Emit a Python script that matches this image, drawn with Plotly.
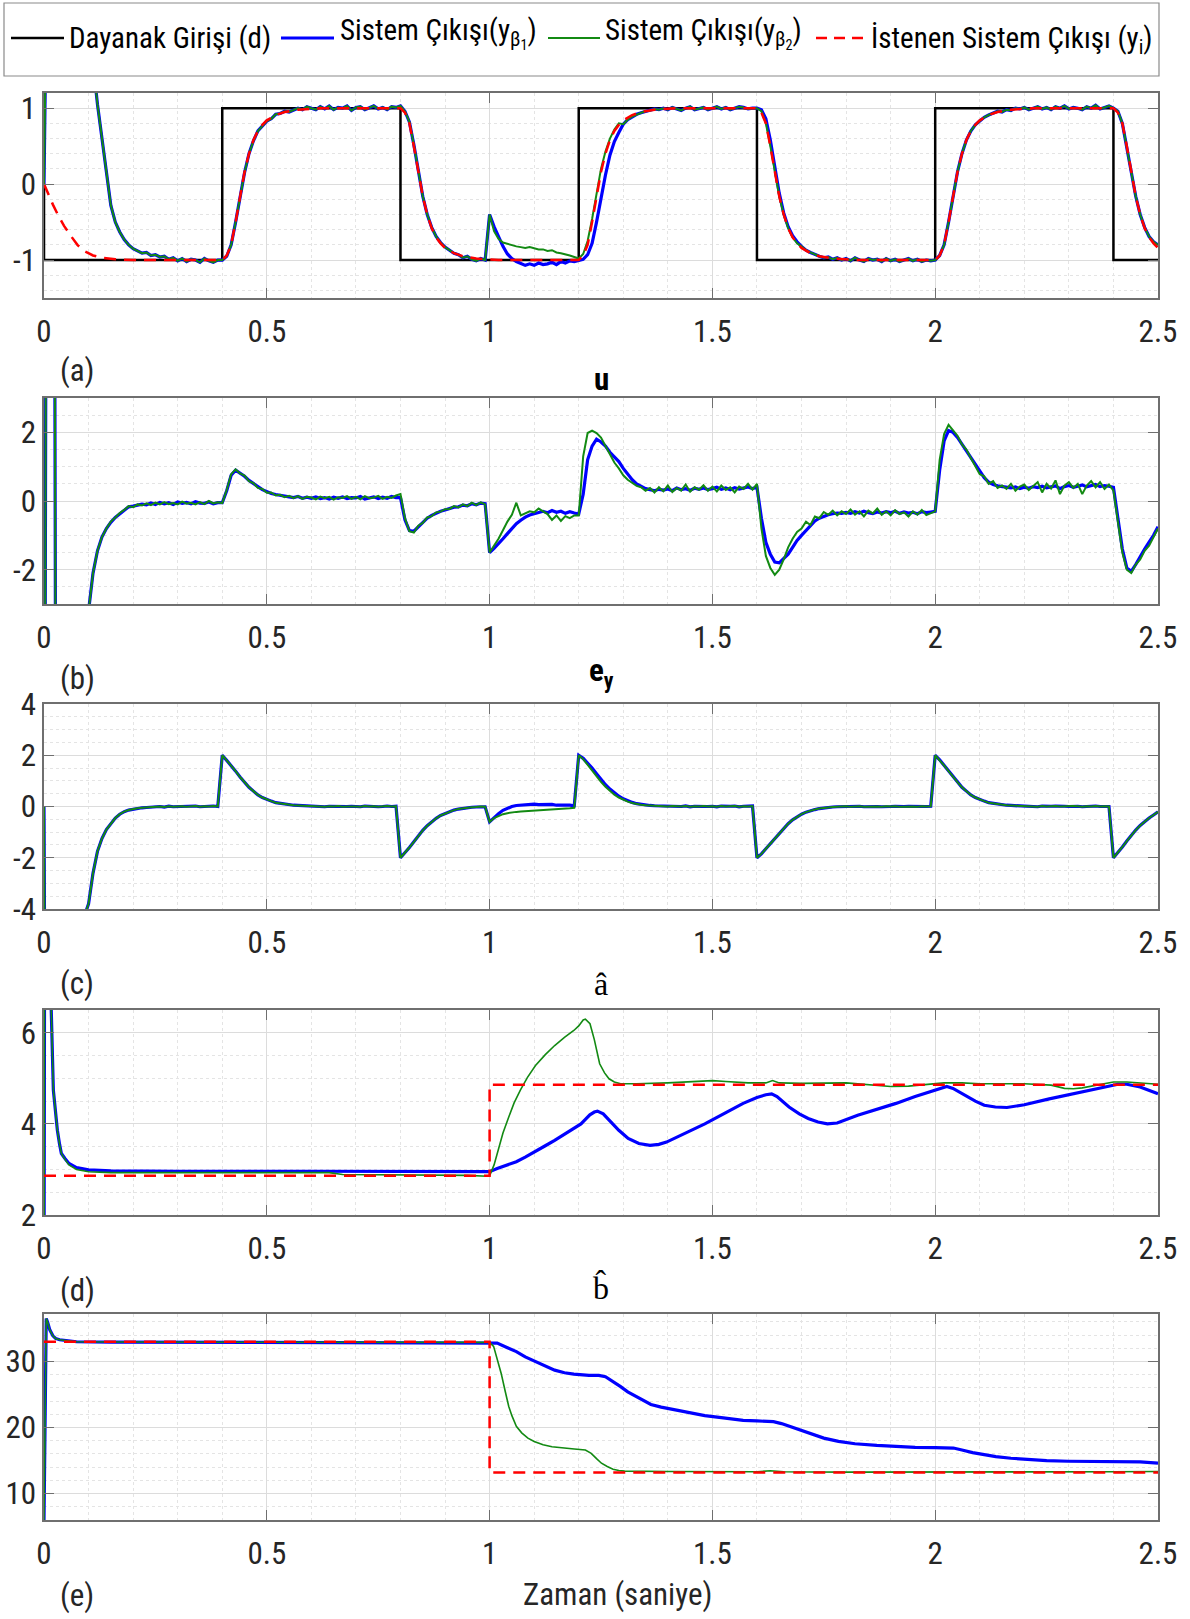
import plotly.graph_objects as go

W, H = 1190, 1619
FONT = "Liberation Sans Narrow, Arial Narrow, Roboto Condensed, Liberation Sans, sans-serif"
SERIF = "Liberation Serif, DejaVu Serif, serif"

# ---------------- DATA ----------------
# uniform sample times (s) used for the noisy signals of panels a, b, c
T01 = [round(i * 0.01, 2) for i in range(251)]

# Panel (a): reference input d (square wave) vertices
D_T = [0, 0, 0.4, 0.4, 0.8, 0.8, 1.2, 1.2, 1.6, 1.6, 2.0, 2.0, 2.4, 2.4, 2.5]
D_Y = [0, -1, -1, 1, 1, -1, -1, 1, 1, -1, -1, 1, 1, -1, -1]

# Panel (a): desired output y_i
RA_T = [0, 0.01, 0.02, 0.03, 0.045, 0.06, 0.075, 0.09, 0.11, 0.13, 0.16, 0.2,
        0.4, 0.41, 0.42, 0.43, 0.44, 0.45, 0.46, 0.47, 0.48, 0.49, 0.5, 0.52, 0.54, 0.57, 0.62,
        0.8, 0.81, 0.82, 0.83, 0.84, 0.85, 0.86, 0.87, 0.88, 0.89, 0.9, 0.92, 0.94, 0.97, 1.02,
        1.2, 1.21, 1.22, 1.23, 1.24, 1.25, 1.26, 1.27, 1.28, 1.29, 1.3, 1.32, 1.34, 1.37, 1.42,
        1.6, 1.61, 1.62, 1.63, 1.64, 1.65, 1.66, 1.67, 1.68, 1.69, 1.7, 1.72, 1.74, 1.77, 1.82,
        2.0, 2.01, 2.02, 2.03, 2.04, 2.05, 2.06, 2.07, 2.08, 2.09, 2.1, 2.12, 2.14, 2.17, 2.22,
        2.4, 2.41, 2.42, 2.43, 2.44, 2.45, 2.46, 2.47, 2.48, 2.49, 2.5]
RA_Y = [0, -0.14, -0.27, -0.39, -0.55, -0.68, -0.8, -0.88, -0.94, -0.97, -0.99, -1.0,
        -1, -0.94, -0.8, -0.5, -0.16, 0.16, 0.4, 0.58, 0.7, 0.78, 0.84, 0.91, 0.95, 0.98, 1.0,
        1, 0.94, 0.8, 0.5, 0.16, -0.16, -0.4, -0.58, -0.7, -0.78, -0.84, -0.91, -0.95, -0.98, -1.0,
        -1, -0.94, -0.8, -0.5, -0.16, 0.16, 0.4, 0.58, 0.7, 0.78, 0.84, 0.91, 0.95, 0.98, 1.0,
        1, 0.94, 0.8, 0.5, 0.16, -0.16, -0.4, -0.58, -0.7, -0.78, -0.84, -0.91, -0.95, -0.98, -1.0,
        -1, -0.94, -0.8, -0.5, -0.16, 0.16, 0.4, 0.58, 0.7, 0.78, 0.84, 0.91, 0.95, 0.98, 1.0,
        1, 0.94, 0.8, 0.5, 0.16, -0.16, -0.4, -0.58, -0.7, -0.78, -0.84]

# Panel (a): system outputs on T01 (shared parts + parts where beta1/beta2 differ)
A_BG_0 = [0, 10, 14, 14, 12, 10, 8, 6, 4.5, 3.2,
          2.3, 1.6, 1.05, 0.62, 0.15, -0.28, -0.5, -0.63, -0.73, -0.8,
          -0.85, -0.88, -0.91, -0.9, -0.94, -0.93, -0.96, -0.95, -0.99, -0.97,
          -1.01, -0.98, -1.02, -0.99, -1.0, -1.03, -0.98, -1.01, -1.03, -1.0,
          -1.0, -0.95, -0.8, -0.5, -0.16, 0.15, 0.4, 0.57, 0.7, 0.77,
          0.83, 0.86, 0.92, 0.93, 0.96, 0.95, 0.98, 1.0, 0.98, 1.02,
          1.0, 0.98, 1.02, 0.99, 1.03, 0.98, 1.01, 1.0, 1.03, 0.97,
          1.01, 1.02, 0.98, 1.0, 1.03, 0.99, 1.01, 0.98, 1.02, 1.01,
          1.03, 0.96, 0.82, 0.52, 0.16, -0.16, -0.4, -0.57, -0.69, -0.77,
          -0.83, -0.87, -0.91, -0.93, -0.97, -0.95, -0.99, -1.01, -0.98, -1.0]
A_B_1 = [-0.4, -0.56, -0.7, -0.82, -0.92, -0.98, -1.02, -1.05, -1.07, -1.05,
         -1.07, -1.04, -1.06, -1.05, -1.03, -1.06, -1.02, -1.04, -1.01, -1.02,
         -1.0, -0.99, -0.93, -0.78, -0.5, -0.18, 0.12, 0.38, 0.56, 0.68]
A_G_1 = [-0.4, -0.62, -0.72, -0.77, -0.79, -0.81, -0.82, -0.83, -0.84, -0.83,
         -0.85, -0.86, -0.86, -0.88, -0.87, -0.9, -0.91, -0.92, -0.94, -0.96,
         -0.98, -0.92, -0.75, -0.46, -0.12, 0.2, 0.43, 0.6, 0.72, 0.8]
A_BG_2 = [0.79, 0.85, 0.89, 0.92, 0.94, 0.96, 0.97, 0.99, 0.98, 1.0,
          0.98, 1.01, 0.99, 0.97, 1.0, 1.02, 0.98, 0.99, 1.01, 0.98,
          1.0, 1.02, 0.99, 1.01, 0.98, 1.0, 1.02, 1.01, 0.99, 1.0]
A_B_3 = [1.0, 0.98, 0.86, 0.58, 0.22, -0.12, -0.38, -0.56, -0.68, -0.76]
A_G_3 = [1.0, 0.96, 0.8, 0.5, 0.16, -0.16, -0.4, -0.58, -0.7, -0.78]
A_BG_4 = [-0.82, -0.87, -0.9, -0.93, -0.95, -0.97, -0.96, -0.99, -0.97, -1.0,
          -0.98, -1.01, -0.97, -1.0, -1.02, -0.98, -1.0, -0.99, -1.02, -0.98,
          -1.01, -0.99, -1.02, -1.0, -0.98, -1.01, -0.99, -1.02, -1.0, -1.01,
          -1.0, -0.94, -0.8, -0.5, -0.16, 0.16, 0.4, 0.58, 0.7, 0.78,
          0.83, 0.88, 0.91, 0.93, 0.96, 0.95, 0.98, 0.97, 1.0, 0.99,
          1.01, 0.98, 1.0, 1.02, 0.99, 1.01, 0.98, 1.02, 1.0, 1.03,
          0.99, 1.01, 1.0, 0.98, 1.02, 1.0, 1.04, 0.99, 1.01, 1.03,
          1.0, 0.96, 0.8, 0.5, 0.16, -0.16, -0.4, -0.57, -0.69, -0.76,
          -0.8]
A_BLUE = A_BG_0 + A_B_1 + A_BG_2 + A_B_3 + A_BG_4
A_GREEN = A_BG_0 + A_G_1 + A_BG_2 + A_G_3 + A_BG_4

# Panel (b): control signal u on T01
B_BLUE = [-20, 40, 30, -30, -25, -18, -12, -8, -5.5, -4,
          -3.2, -2.1, -1.45, -1.05, -0.8, -0.62, -0.48, -0.37, -0.25, -0.17,
          -0.15, -0.12, -0.09, -0.11, -0.06, -0.1, -0.04, -0.08, -0.05, -0.1,
          -0.03, -0.07, -0.04, -0.08, -0.02, -0.06, -0.07, -0.03, -0.08, -0.05,
          -0.05, 0.3, 0.75, 0.9, 0.82, 0.72, 0.6, 0.5, 0.42, 0.33,
          0.27, 0.22, 0.19, 0.16, 0.14, 0.12, 0.1, 0.13, 0.08, 0.11,
          0.08, 0.12, 0.07, 0.1, 0.06, 0.11, 0.08, 0.12, 0.07, 0.1,
          0.09, 0.13, 0.06, 0.1, 0.12, 0.07, 0.11, 0.08, 0.13, 0.1,
          0.1, -0.55, -0.86, -0.88, -0.75, -0.6, -0.5, -0.42, -0.35, -0.3,
          -0.26, -0.22, -0.18, -0.17, -0.12, -0.14, -0.08, -0.11, -0.06, -0.08,
          -1.5, -1.38, -1.25, -1.1, -0.95, -0.8, -0.66, -0.56, -0.47, -0.41,
          -0.37, -0.35, -0.3, -0.34, -0.28, -0.33, -0.3, -0.36, -0.31, -0.35,
          -0.38, 0.2, 1.2, 1.6, 1.8, 1.72, 1.6, 1.42, 1.3, 1.15,
          0.95, 0.78, 0.62, 0.5, 0.42, 0.36, 0.33, 0.3, 0.34, 0.32,
          0.35, 0.3, 0.38, 0.33, 0.36, 0.31, 0.37, 0.34, 0.38, 0.33,
          0.36, 0.4, 0.34, 0.38, 0.33, 0.39, 0.35, 0.37, 0.41, 0.36,
          0.4, -0.5, -1.2, -1.55, -1.78, -1.8, -1.68, -1.55, -1.35, -1.15,
          -1.0, -0.85, -0.7, -0.58, -0.5, -0.44, -0.4, -0.37, -0.35, -0.36,
          -0.33, -0.36, -0.31, -0.35, -0.3, -0.34, -0.37, -0.32, -0.35, -0.31,
          -0.34, -0.3, -0.36, -0.32, -0.35, -0.33, -0.37, -0.31, -0.34, -0.32,
          -0.3, 0.9, 1.75, 2.05, 2.0, 1.85, 1.65, 1.45, 1.25, 1.05,
          0.85, 0.68, 0.55, 0.48, 0.44, 0.42, 0.4, 0.38, 0.41, 0.36,
          0.4, 0.37, 0.42, 0.39, 0.43, 0.38, 0.41, 0.44, 0.36, 0.42,
          0.45, 0.4, 0.43, 0.47, 0.41, 0.44, 0.48, 0.42, 0.45, 0.43,
          0.4, -0.5, -1.4, -1.95, -2.05, -1.85, -1.6, -1.4, -1.2, -1.0,
          -0.75]
B_GREEN = [-20, 40, 30, -30, -25, -18, -12, -8, -5.5, -4,
           -3.2, -2.1, -1.45, -1.05, -0.8, -0.6, -0.48, -0.35, -0.26, -0.15,
           -0.18, -0.1, -0.13, -0.07, -0.12, -0.05, -0.1, -0.03, -0.09, -0.06,
           -0.1, -0.02, -0.08, -0.05, -0.1, -0.03, -0.09, 0.0, -0.07, -0.04,
           -0.06, 0.32, 0.78, 0.92, 0.8, 0.74, 0.58, 0.52, 0.38, 0.35,
           0.24, 0.25, 0.16, 0.18, 0.11, 0.15, 0.08, 0.14, 0.06, 0.12,
           0.1, 0.05, 0.13, 0.08, 0.12, 0.04, 0.11, 0.09, 0.14, 0.06,
           0.12, 0.05, 0.14, 0.08, 0.1, 0.15, 0.06, 0.12, 0.09, 0.16,
           0.2, -0.5, -0.88, -0.92, -0.72, -0.64, -0.48, -0.44, -0.33, -0.31,
           -0.24, -0.23, -0.15, -0.19, -0.1, -0.15, -0.05, -0.12, -0.04, -0.1,
           -1.5, -1.3, -1.1, -0.85, -0.6, -0.4, -0.05, -0.42, -0.35, -0.3,
           -0.33, -0.22, -0.3, -0.38, -0.55, -0.42, -0.58, -0.44, -0.5, -0.42,
           -0.42, 1.3, 1.98, 2.05, 1.98, 1.85, 1.6, 1.38, 1.12, 0.95,
           0.75, 0.62, 0.52, 0.44, 0.4, 0.3, 0.38, 0.25, 0.4, 0.28,
           0.45, 0.26, 0.38, 0.3, 0.48, 0.27, 0.4, 0.33, 0.46, 0.3,
           0.42, 0.28, 0.45, 0.32, 0.4, 0.25, 0.42, 0.35, 0.5, 0.33,
           0.5, -0.8, -1.6, -1.95, -2.15, -2.0, -1.7, -1.35, -1.1, -0.9,
           -0.8, -0.6, -0.7, -0.45, -0.5, -0.32, -0.4, -0.28, -0.42, -0.3,
           -0.38, -0.25, -0.4, -0.3, -0.45, -0.28, -0.36, -0.22, -0.4, -0.3,
           -0.42, -0.27, -0.38, -0.33, -0.45, -0.3, -0.4, -0.26, -0.41, -0.35,
           -0.3, 1.2, 1.95, 2.22, 2.05, 1.9, 1.65, 1.5, 1.25, 1.02,
           0.78, 0.72, 0.5, 0.58, 0.38, 0.45, 0.35, 0.5, 0.3, 0.42,
           0.48, 0.32, 0.45, 0.55, 0.25, 0.5, 0.36, 0.6, 0.2, 0.45,
           0.55, 0.38, 0.5, 0.2, 0.45, 0.58, 0.4, 0.55, 0.35, 0.48,
           0.3, -0.6, -1.5, -2.0, -2.1, -1.85, -1.7, -1.45, -1.3, -1.05,
           -0.8]

# Panel (c): tracking error e_y on T01
C_BG_0 = [0, -40, -35, -28, -20, -15, -11, -8, -6, -4.3,
          -3.8, -2.6, -1.75, -1.25, -0.9, -0.65, -0.45, -0.3, -0.2, -0.14,
          -0.1, -0.07, -0.05, -0.04, -0.02, -0.03, 0.0, -0.02, 0.01, -0.01,
          0.0, 0.01, -0.01, 0.0, 0.02, -0.01, 0.01, 0.0, 0.02, 0.0,
          2.0, 1.8, 1.6, 1.38, 1.15, 0.95, 0.75, 0.6, 0.45, 0.35,
          0.27, 0.21, 0.15, 0.12, 0.09, 0.07, 0.05, 0.04, 0.03, 0.02,
          0.02, 0.0, 0.01, -0.01, 0.01, 0.0, 0.02, -0.01, 0.0, 0.01,
          0.0, -0.01, 0.02, 0.0, 0.01, -0.01, 0.0, 0.02, 0.0, 0.01,
          -2.0, -1.82, -1.6, -1.38, -1.15, -0.93, -0.75, -0.6, -0.46, -0.35,
          -0.27, -0.2, -0.14, -0.1, -0.07, -0.05, -0.03, -0.02, 0.0, -0.01]
C_B_1 = [-0.6, -0.42, -0.28, -0.15, -0.06, 0.0, 0.04, 0.06, 0.08, 0.07,
         0.09, 0.07, 0.08, 0.06, 0.08, 0.05, 0.06, 0.04, 0.05, 0.03,
         2.0, 1.88, 1.7, 1.5, 1.28, 1.05, 0.85, 0.68, 0.52, 0.4,
         0.3, 0.22, 0.16, 0.11, 0.08, 0.06, 0.04, 0.03, 0.02, 0.01]
C_G_1 = [-0.6, -0.45, -0.36, -0.3, -0.26, -0.23, -0.21, -0.2, -0.19, -0.18,
         -0.17, -0.16, -0.15, -0.14, -0.12, -0.11, -0.1, -0.08, -0.07, -0.05,
         2.0, 1.85, 1.62, 1.4, 1.17, 0.96, 0.77, 0.6, 0.46, 0.35,
         0.26, 0.19, 0.14, 0.1, 0.07, 0.05, 0.04, 0.03, 0.02, 0.01]
C_BG_2 = [0.0, 0.02, 0.01, 0.0, 0.02, -0.01, 0.01, 0.0, 0.02, 0.0,
          0.01, -0.01, 0.02, 0.0, 0.01, 0.02, -0.01, 0.01, 0.0, 0.02,
          -2.0, -1.85, -1.65, -1.45, -1.24, -1.03, -0.84, -0.67, -0.52, -0.4,
          -0.3, -0.22, -0.16, -0.12, -0.08, -0.05, -0.04, -0.02, -0.01, 0.0,
          0.01, -0.01, 0.0, 0.01, -0.01, 0.0, 0.01, 0.0, -0.01, 0.01,
          0.0, 0.01, -0.01, 0.0, 0.01, 0.0, -0.01, 0.01, 0.0, 0.01,
          2.0, 1.82, 1.6, 1.38, 1.15, 0.95, 0.75, 0.6, 0.45, 0.35,
          0.27, 0.21, 0.15, 0.12, 0.09, 0.07, 0.05, 0.04, 0.03, 0.02,
          0.02, 0.0, 0.01, -0.01, 0.02, 0.0, 0.01, 0.02, 0.0, 0.01,
          0.0, 0.02, 0.01, -0.01, 0.01, 0.0, 0.02, 0.0, 0.01, 0.0,
          -2.0, -1.8, -1.58, -1.35, -1.12, -0.92, -0.74, -0.58, -0.45, -0.33,
          -0.21]
C_BLUE = C_BG_0 + C_B_1 + C_BG_2
C_GREEN = C_BG_0 + C_G_1 + C_BG_2

# Panel (d): parameter estimate a-hat
DB_T = [0, 0.002, 0.012, 0.016, 0.021, 0.026, 0.03, 0.035, 0.039, 0.047,
        0.056, 0.073, 0.1, 0.15, 0.3, 0.6, 1.0, 1.017, 1.04, 1.06,
        1.08, 1.103, 1.125, 1.146, 1.168, 1.189, 1.205, 1.215, 1.225, 1.235,
        1.242, 1.255, 1.268, 1.29, 1.311, 1.335, 1.36, 1.38, 1.397, 1.44,
        1.483, 1.525, 1.569, 1.6, 1.62, 1.633, 1.645, 1.672, 1.695, 1.715,
        1.737, 1.758, 1.78, 1.826, 1.87, 1.912, 1.955, 1.998, 2.015, 2.026,
        2.04, 2.067, 2.09, 2.11, 2.135, 2.161, 2.2, 2.256, 2.3, 2.341,
        2.38, 2.41, 2.43, 2.46, 2.5]
DB_Y = [0, 12, 9, 6.6, 4.74, 4.2, 3.86, 3.55, 3.35, 3.24,
        3.13, 3.04, 2.99, 2.97, 2.96, 2.96, 2.95, 3.02, 3.1, 3.17,
        3.27, 3.39, 3.52, 3.64, 3.77, 3.9, 4.0, 4.1, 4.2, 4.26,
        4.28, 4.22, 4.08, 3.86, 3.68, 3.57, 3.53, 3.55, 3.6, 3.8,
        4.0, 4.22, 4.45, 4.58, 4.64, 4.66, 4.6, 4.37, 4.22, 4.12,
        4.04, 4.0, 4.02, 4.19, 4.32, 4.45, 4.6, 4.74, 4.8, 4.82,
        4.78, 4.63, 4.5, 4.41, 4.37, 4.36, 4.42, 4.55, 4.64, 4.74,
        4.82, 4.87, 4.87, 4.81, 4.66]
DG_T = [0, 0.002, 0.012, 0.016, 0.021, 0.026, 0.03, 0.035, 0.039, 0.047,
        0.056, 0.073, 0.1, 0.15, 0.3, 0.64, 0.67, 0.8, 0.95, 0.995,
        1.0, 1.01, 1.017, 1.03, 1.043, 1.055, 1.069, 1.085, 1.103, 1.125,
        1.146, 1.168, 1.189, 1.2, 1.21, 1.215, 1.2253, 1.235, 1.247, 1.258,
        1.268, 1.28, 1.294, 1.33, 1.4, 1.45, 1.5, 1.53, 1.58, 1.62,
        1.635, 1.65, 1.7, 1.8, 1.86, 1.9, 1.94, 1.98, 2.02, 2.06,
        2.1, 2.2, 2.26, 2.29, 2.31, 2.33, 2.36, 2.4, 2.43, 2.46,
        2.5]
DG_Y = [0, 12, 9, 6.6, 4.74, 4.2, 3.86, 3.55, 3.35, 3.22,
        3.1, 3.0, 2.95, 2.93, 2.93, 2.93, 2.89, 2.88, 2.87, 2.85,
        2.86, 3.1, 3.35, 3.8, 4.15, 4.46, 4.74, 5.02, 5.28, 5.52,
        5.72, 5.9, 6.05, 6.15, 6.28, 6.3, 6.2, 5.85, 5.32, 5.12,
        4.99, 4.92, 4.88, 4.88, 4.9, 4.93, 4.95, 4.93, 4.9, 4.9,
        4.95, 4.9, 4.89, 4.9, 4.86, 4.82, 4.83, 4.87, 4.9, 4.9,
        4.88, 4.88, 4.85, 4.78, 4.77, 4.79, 4.84, 4.92, 4.92, 4.9,
        4.87]
RD_T = [0, 1.0, 1.0, 2.5]
RD_Y = [2.86, 2.86, 4.86, 4.86]

# Panel (e): parameter estimate b-hat
EB_T = [0, 0.003, 0.005, 0.008, 0.013, 0.02, 0.026, 0.035, 0.047, 0.073,
        0.15, 1.0, 1.017, 1.04, 1.06, 1.08, 1.103, 1.125, 1.146, 1.168,
        1.189, 1.223, 1.245, 1.26, 1.277, 1.294, 1.31, 1.329, 1.345, 1.362,
        1.385, 1.414, 1.45, 1.483, 1.52, 1.569, 1.6, 1.637, 1.655, 1.672,
        1.7, 1.724, 1.75, 1.783, 1.82, 1.869, 1.91, 1.955, 2.0, 2.041,
        2.06, 2.084, 2.11, 2.136, 2.17, 2.213, 2.25, 2.299, 2.36, 2.427,
        2.46, 2.5]
EB_Y = [6, 30, 36.5, 36.0, 34.8, 33.9, 33.5, 33.3, 33.2, 33.0,
        32.95, 32.9, 32.8, 32.1, 31.5, 30.7, 30.0, 29.3, 28.7, 28.3,
        28.1, 27.9, 27.9, 27.7, 27.0, 26.2, 25.4, 24.7, 24.0, 23.5,
        23.1, 22.7, 22.2, 21.8, 21.5, 21.1, 21.0, 20.9, 20.6, 20.2,
        19.5, 18.9, 18.4, 17.9, 17.55, 17.3, 17.15, 17.0, 16.95, 16.9,
        16.6, 16.2, 15.9, 15.6, 15.35, 15.1, 15.0, 14.9, 14.85, 14.85,
        14.8, 14.6]
EG_T = [0, 0.003, 0.005, 0.008, 0.013, 0.02, 0.026, 0.035, 0.047, 0.073,
        0.15, 1.0, 1.009, 1.017, 1.026, 1.035, 1.043, 1.05, 1.06, 1.072,
        1.086, 1.1, 1.12, 1.14, 1.163, 1.19, 1.215, 1.228, 1.24, 1.251,
        1.264, 1.277, 1.29, 1.303, 1.4, 1.5, 1.6, 1.63, 1.66, 1.8,
        2.0, 2.2, 2.4, 2.5]
EG_Y = [6, 30, 36.5, 36.0, 34.8, 33.9, 33.5, 33.3, 33.2, 33.0,
        32.95, 32.9, 32.3, 30.5, 28.2, 25.5, 23.2, 21.8, 20.2, 19.2,
        18.4, 17.9, 17.4, 17.1, 16.9, 16.75, 16.6, 16.1, 15.3, 14.6,
        14.1, 13.7, 13.5, 13.4, 13.35, 13.35, 13.3, 13.45, 13.3, 13.25,
        13.25, 13.2, 13.3, 13.35]
RE_T = [0, 1.0, 1.0, 2.5]
RE_Y = [33.0, 33.0, 13.2, 13.2]

# tick labels
X_TICKS = [0, 0.5, 1, 1.5, 2, 2.5]
X_TEXT = ["0", "0.5", "1", "1.5", "2", "2.5"]
YA_TICKS, YA_TEXT = [-1, 0, 1], ["-1", "0", "1"]
YB_TICKS, YB_TEXT = [-2, 0, 2], ["-2", "0", "2"]
YC_TICKS, YC_TEXT = [-4, -2, 0, 2, 4], ["-4", "-2", "0", "2", "4"]
YD_TICKS, YD_TEXT = [2, 4, 6], ["2", "4", "6"]
YE_TICKS, YE_TEXT = [10, 20, 30], ["10", "20", "30"]

for a, b in [(T01, A_BLUE), (T01, A_GREEN), (T01, B_BLUE), (T01, B_GREEN), (T01, C_BLUE),
             (T01, C_GREEN), (DB_T, DB_Y), (DG_T, DG_Y), (EB_T, EB_Y), (EG_T, EG_Y), (RA_T, RA_Y)]:
    assert len(a) == len(b), (len(a), len(b))

# ---------------- STYLE / LAYOUT ----------------
BLUE, GREEN, RED, BLACK = "#0000ff", "#138a13", "#ff0000", "#000000"
FRAME = "#6f6f6f"
TXT = "#262626"


def px(x):
    return x / W


def py(y):
    return 1 - y / H


X_L, X_R = 44, 1158
BOXES = [(93, 298), (398, 604), (704, 909), (1010, 1215), (1314, 1520)]
YRANGES = [[-1.5, 1.2], [-3, 3], [-4, 4], [2, 6.5], [6, 37.2]]
YTICKS = [(YA_TICKS, YA_TEXT), (YB_TICKS, YB_TEXT), (YC_TICKS, YC_TEXT), (YD_TICKS, YD_TEXT), (YE_TICKS, YE_TEXT)]
YMINOR = [0.2, 0.5, 0.5, 0.5, 2]

fig = go.Figure()


def add(i, x, y, color, width, dash=None):
    fig.add_trace(go.Scatter(
        x=x, y=y, mode="lines", showlegend=False, hoverinfo="skip",
        line=dict(color=color, width=width, dash=dash),
        xaxis="x" if i == 0 else f"x{i+1}", yaxis="y" if i == 0 else f"y{i+1}"))


DASH = "12px,8px"
add(0, D_T, D_Y, BLACK, 2.5)
add(0, T01, A_BLUE, BLUE, 3.2)
add(0, T01, A_GREEN, GREEN, 2)
add(0, RA_T, RA_Y, RED, 2.5, DASH)
add(1, T01, B_BLUE, BLUE, 3.2)
add(1, T01, B_GREEN, GREEN, 2)
add(2, T01, C_BLUE, BLUE, 3.2)
add(2, T01, C_GREEN, GREEN, 2)
add(3, DB_T, DB_Y, BLUE, 3.2)
add(3, DG_T, DG_Y, GREEN, 1.6)
add(3, RD_T, RD_Y, RED, 2.5, DASH)
add(4, EB_T, EB_Y, BLUE, 3.2)
add(4, EG_T, EG_Y, GREEN, 1.6)
add(4, RE_T, RE_Y, RED, 2.5, DASH)

common = dict(showline=True, linecolor=FRAME, linewidth=1.5, mirror="ticks",
              ticks="inside", ticklen=10, tickwidth=1.2, tickcolor=FRAME,
              showgrid=True, gridcolor="#dcdcdc", gridwidth=1, zeroline=False,
              automargin=False,
              tickfont=dict(family=FONT, size=31, color=TXT), fixedrange=True)

layout = dict(width=W, height=H, margin=dict(l=0, r=0, t=0, b=0, pad=0),
              paper_bgcolor="white", plot_bgcolor="white", autosize=False)
for i in range(5):
    top, bot = BOXES[i]
    sx = "" if i == 0 else str(i + 1)
    layout["xaxis" + sx] = dict(common, domain=[px(X_L), px(X_R)], range=[0, 2.5],
                                anchor="y" + sx, tickvals=X_TICKS, ticktext=X_TEXT,
                                ticklabelstandoff=5,
                                minor=dict(dtick=0.1, tick0=0, showgrid=True, gridcolor="#e4e4e4",
                                           griddash="dot", gridwidth=1, ticks=""))
    layout["yaxis" + sx] = dict(common, domain=[py(bot), py(top)], range=YRANGES[i],
                                anchor="x" + sx, tickvals=YTICKS[i][0], ticktext=YTICKS[i][1],
                                ticklabelstandoff=0,
                                minor=dict(dtick=YMINOR[i], tick0=0, showgrid=True, gridcolor="#e4e4e4",
                                           griddash="dot", gridwidth=1, ticks=""))
fig.update_layout(**layout)

# ---- legend (drawn) ----
shapes = [dict(type="rect", xref="paper", yref="paper", x0=px(4), x1=px(1159), y0=py(76), y1=py(3),
               line=dict(color="#8a8a8a", width=1.2), fillcolor="white", layer="above")]
LEG_Y = 38
for (x0, x1, col, wd, ds) in [(11, 64, BLACK, 2.5, None), (281, 334, BLUE, 3, None),
                              (548, 600, GREEN, 1.8, None), (816, 865, RED, 2.5, "11px,7px")]:
    shapes.append(dict(type="line", xref="paper", yref="paper", x0=px(x0), x1=px(x1),
                       y0=py(LEG_Y), y1=py(LEG_Y), line=dict(color=col, width=wd, dash=ds)))
fig.update_layout(shapes=shapes)

ann = []


def text(x, y, s, size=31, family=FONT, xanchor="center", yanchor="middle", color="#000000"):
    ann.append(dict(x=px(x), y=py(y), xref="paper", yref="paper", text=s, showarrow=False,
                    xanchor=xanchor, yanchor=yanchor, font=dict(family=family, size=size, color=color)))


LF = 29
text(67, 38, "Dayanak Girişi (d)", size=LF, xanchor="left")
text(338, 33, "Sistem Çıkışı(y<sub>β<sub>1</sub></sub>)", size=LF, xanchor="left")
text(603, 33, "Sistem Çıkışı(y<sub>β<sub>2</sub></sub>)", size=LF, xanchor="left")
text(869, 40, "İstenen Sistem Çıkışı (y<sub>i</sub>)", size=LF, xanchor="left")

text(77, 370, "(a)", color=TXT)
text(601, 379, "<b>u</b>")
text(77, 678, "(b)", color=TXT)
text(601, 672, "<b>e<sub>y</sub></b>")
text(77, 983, "(c)", color=TXT)
text(601, 984, "â", size=32, family=SERIF)
text(77, 1290, "(d)", color=TXT)
text(601, 1288, "b\u0302", size=32, family=SERIF)
text(77, 1595, "(e)", color=TXT)
text(617, 1594, "Zaman (saniye)", color=TXT)
fig.update_layout(annotations=ann)

fig.write_html("out.html", config={"displayModeBar": False},
               post_script="document.body.style.margin='0px';document.body.style.overflow='hidden';")
